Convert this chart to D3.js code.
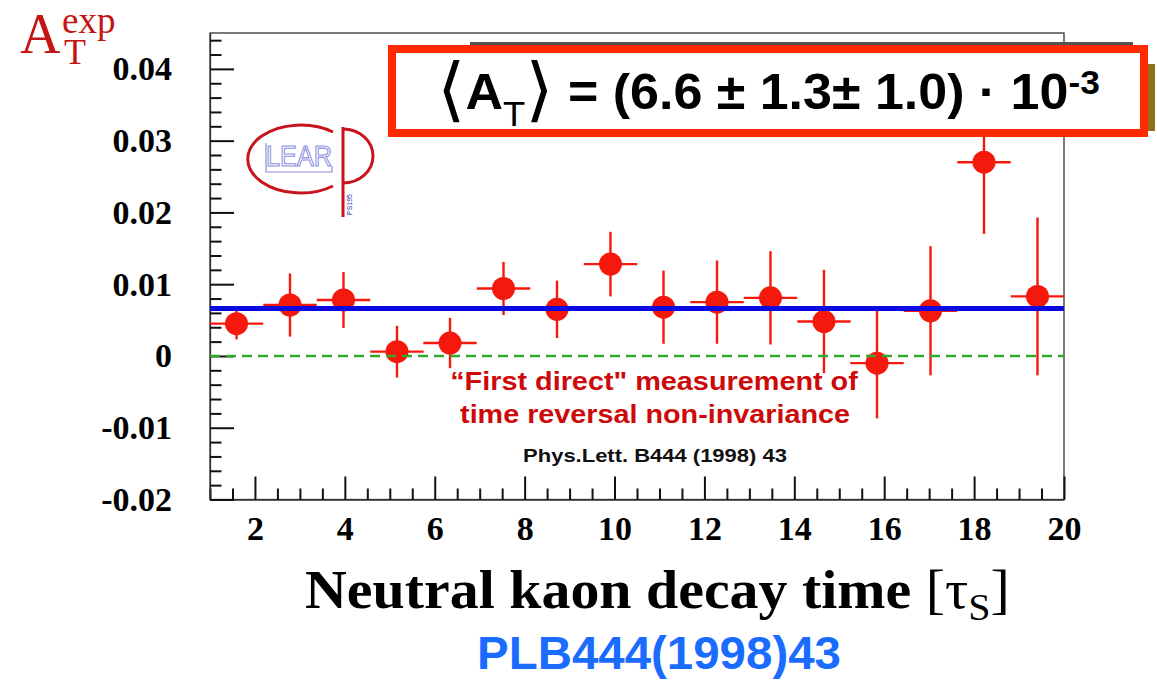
<!DOCTYPE html>
<html>
<head>
<meta charset="utf-8">
<script src="https://cdn.jsdelivr.net/npm/d3@7"></script>
<style>
body{margin:0;background:#fff;}
svg{display:block;}
.serif{font-family:"Liberation Serif","Times New Roman",serif;}
.sans{font-family:"Liberation Sans",Arial,sans-serif;}
</style>
</head>
<body>
<svg id="chart" width="1157" height="680"></svg>
<script>
// bin centres of the decay-time histogram (units of tau_S)
const decayTime = [1.59, 2.78, 3.97, 5.16, 6.34, 7.53, 8.72, 9.91, 11.09, 12.28, 13.47, 14.66, 15.84, 17.03, 18.22, 19.41];
const binHalf = 0.594;
const asymmetry = [0.0045, 0.0071, 0.0078, 0.0006, 0.0018, 0.0094, 0.0065, 0.0128, 0.0068, 0.0075, 0.0081, 0.0048, -0.0010, 0.0063, 0.0270, 0.0083];
const asymErr   = [0.0022, 0.0044, 0.0039, 0.0036, 0.0035, 0.0037, 0.0040, 0.0045, 0.0051, 0.0058, 0.0065, 0.0072, 0.0077, 0.0090, 0.0100, 0.0110];
const meanAT = 0.0066;
const xTicks = [2, 4, 6, 8, 10, 12, 14, 16, 18, 20];
const yTicks = [-0.02, -0.01, 0, 0.01, 0.02, 0.03, 0.04];

const svg = d3.select("#chart");
const x = d3.scaleLinear().domain([1, 20]).range([210, 1064]);
const y = d3.scaleLinear().domain([-0.02, 0.045]).range([499.5, 33]);

const RED = "#f5180c";

// stretch a text horizontally about x0 so it spans w pixels
function fitWidth(sel, x0, w) {
  const len = sel.node().getComputedTextLength();
  const k = w / len;
  sel.attr("transform", "translate(" + x0 + ",0) scale(" + k + ",1) translate(" + (-x0) + ",0)");
}

// frame
svg.append("rect")
  .attr("x", x(1)).attr("y", y(0.045))
  .attr("width", x(20) - x(1)).attr("height", y(-0.02) - y(0.045))
  .attr("fill", "none").attr("stroke", "#333").attr("stroke-width", 1.3);

// x axis
let xMinor = d3.range(1, 20.01, 0.5).filter(v => v % 2 !== 0);
let gx = svg.append("g").attr("transform", "translate(0," + y(-0.02) + ")");
gx.call(d3.axisBottom(x).tickValues(xTicks).tickSizeInner(-23).tickSizeOuter(0)
  .tickPadding(16).tickFormat(d3.format("d")));
gx.append("g").call(d3.axisBottom(x).tickValues(xMinor).tickSizeInner(-11).tickSizeOuter(0).tickFormat(""))
  .select(".domain").remove();
gx.selectAll("text").attr("class", "serif").style("font-size", "34px").style("font-weight", "bold").attr("fill", "#000");

// y axis
let yMinor = d3.range(-0.02, 0.0445, 0.002).filter(v => Math.abs(Math.round(v * 100) - v * 100) > 1e-6);
let gy = svg.append("g").attr("transform", "translate(" + x(1) + ",0)");
gy.call(d3.axisLeft(y).tickValues(yTicks).tickSizeInner(-24).tickSizeOuter(0)
  .tickPadding(38).tickFormat(d => Math.abs(d) < 1e-9 ? "0" : d.toFixed(2)));
gy.append("g").call(d3.axisLeft(y).tickValues(yMinor).tickSizeInner(-11.5).tickSizeOuter(0).tickFormat(""))
  .select(".domain").remove();
gy.selectAll("text").attr("class", "serif").style("font-size", "34px").style("font-weight", "bold").attr("fill", "#000");

svg.selectAll(".tick line").attr("stroke", "#111").attr("stroke-width", 2);
svg.selectAll(".domain").attr("stroke", "#333").attr("stroke-width", 1.3);

// data points with error bars
let pts = svg.append("g");
decayTime.forEach((t, i) => {
  pts.append("line")
    .attr("x1", x(t - binHalf)).attr("x2", x(t + binHalf))
    .attr("y1", y(asymmetry[i])).attr("y2", y(asymmetry[i]))
    .attr("stroke", RED).attr("stroke-width", 2.4);
  pts.append("line")
    .attr("x1", x(t)).attr("x2", x(t))
    .attr("y1", y(asymmetry[i] - asymErr[i])).attr("y2", y(asymmetry[i] + asymErr[i]))
    .attr("stroke", RED).attr("stroke-width", 2.4);
  pts.append("circle")
    .attr("cx", x(t)).attr("cy", y(asymmetry[i])).attr("r", 11.5)
    .attr("fill", RED);
});

// zero line
svg.append("line")
  .attr("x1", x(1)).attr("x2", x(20)).attr("y1", y(0)).attr("y2", y(0))
  .attr("stroke", "#36a62e").attr("stroke-width", 2.4).attr("stroke-dasharray", "10,6");

// mean asymmetry line
svg.append("line")
  .attr("x1", x(1)).attr("x2", x(20)).attr("y1", y(meanAT)).attr("y2", y(meanAT))
  .attr("stroke", "#0a0ae0").attr("stroke-width", 5);

// result box (with shadow edges)
svg.append("rect").attr("x", 470).attr("y", 42).attr("width", 663).attr("height", 4).attr("fill", "#555");
svg.append("rect").attr("x", 1147).attr("y", 64).attr("width", 8).attr("height", 67).attr("fill", "#8f6d1a");
svg.append("rect").attr("x", 392).attr("y", 49).attr("width", 752).attr("height", 84)
  .attr("fill", "#fff").attr("stroke", "#ff2a00").attr("stroke-width", 8);

let bt = svg.append("text").attr("class", "sans").attr("x", 437).attr("y", 109)
  .style("font-size", "50px").style("font-weight", "bold").attr("fill", "#000");
bt.append("tspan").text("\u27E8").style("font-family", "DejaVu Sans").style("font-weight", "normal").style("font-size", "70px").attr("dy", 4);
bt.append("tspan").text("A").attr("dy", -4);
bt.append("tspan").text("T").attr("dy", 17).style("font-size", "35px").style("font-weight", "normal");
bt.append("tspan").text("\u27E9").attr("dy", -13).style("font-family", "DejaVu Sans").style("font-weight", "normal").style("font-size", "70px");
bt.append("tspan").text(" = (6.6 \u00B1 1.3\u00B1 1.0) \u00B7 10").attr("dy", -4);
bt.append("tspan").text("-3").attr("dy", -15).style("font-size", "34px");
fitWidth(bt, 437, 663);

// y axis title
let yt = svg.append("text").attr("class", "serif").attr("fill", "#c41414");
yt.append("tspan").attr("x", 20).attr("y", 53).style("font-size", "56px").text("A");
yt.append("tspan").attr("x", 64).attr("y", 64).style("font-size", "36px").text("T");
yt.append("tspan").attr("x", 62).attr("y", 33).style("font-size", "37px").text("exp");

// x axis title
let xt = svg.append("text").attr("class", "serif").attr("x", 305).attr("y", 608)
  .style("font-size", "55px").style("font-weight", "bold").attr("fill", "#000");
xt.append("tspan").text("Neutral kaon decay time ");
xt.append("tspan").text("[\u03C4").style("font-weight", "normal");
xt.append("tspan").text("S").attr("dy", 12).style("font-weight", "normal").style("font-size", "38px");
xt.append("tspan").text("]").attr("dy", -12).style("font-weight", "normal");
fitWidth(xt, 305, 705);

// annotations
let a1 = svg.append("text").attr("class", "sans").attr("x", 654).attr("y", 390).attr("text-anchor", "middle")
  .style("font-size", "26px").style("font-weight", "bold").attr("fill", "#cc0a0a")
  .text("\u201CFirst direct\" measurement of");
fitWidth(a1, 654, 408);
let a2 = svg.append("text").attr("class", "sans").attr("x", 655).attr("y", 423).attr("text-anchor", "middle")
  .style("font-size", "26px").style("font-weight", "bold").attr("fill", "#cc0a0a")
  .text("time reversal non-invariance");
fitWidth(a2, 655, 390);
let a3 = svg.append("text").attr("class", "sans").attr("x", 655).attr("y", 462).attr("text-anchor", "middle")
  .style("font-size", "18px").style("font-weight", "bold").attr("fill", "#111")
  .text("Phys.Lett. B444 (1998) 43");
fitWidth(a3, 655, 264);
let a4 = svg.append("text").attr("class", "sans").attr("x", 659).attr("y", 669).attr("text-anchor", "middle")
  .style("font-size", "46px").style("font-weight", "bold").attr("fill", "#1a6cff")
  .text("PLB444(1998)43");
fitWidth(a4, 659, 364);

// LEAR / CP logo
let logo = svg.append("g");
logo.append("path").attr("d", "M333,132 A53,34 0 1 0 333,186")
  .attr("fill", "none").attr("stroke", "#c8141e").attr("stroke-width", 3);
logo.append("path").attr("d", "M343,127 L343,217 M343,129 A30,27 0 0 1 343,183")
  .attr("fill", "none").attr("stroke", "#c8141e").attr("stroke-width", 3);
logo.append("path").attr("d", "M266,143 L266,172 L332,172 L332,166")
  .attr("fill", "none").attr("stroke", "#8a8ee0").attr("stroke-width", 1.2);
logo.append("text").attr("class", "sans").attr("x", 266).attr("y", 166)
  .attr("textLength", 66).attr("lengthAdjust", "spacingAndGlyphs")
  .style("font-size", "30px")
  .attr("fill", "#fff").attr("stroke", "#8a8ee0").attr("stroke-width", 1.2).text("LEAR");
logo.append("text").attr("class", "sans").attr("transform", "translate(352,215) rotate(-90)")
  .style("font-size", "7px").attr("fill", "#3030c0").text("PS195");
</script>
</body>
</html>
